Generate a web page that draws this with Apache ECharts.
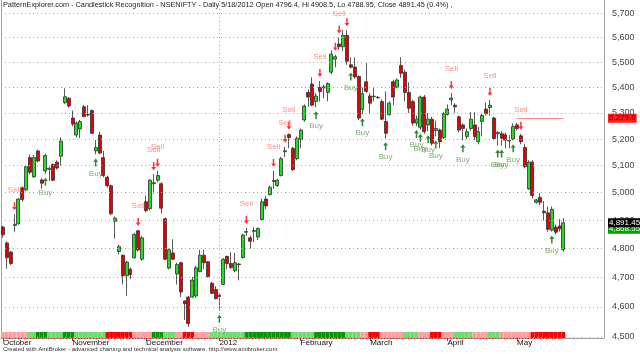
<!DOCTYPE html>
<html>
<head>
<meta charset="utf-8">
<script src="https://cdn.jsdelivr.net/npm/echarts@6/dist/echarts.min.js"></script>
<style>
  html, body { margin: 0; padding: 0; background: #fff; }
  #main { width: 640px; height: 354px; }
</style>
</head>
<body>
<div id="main"></div>
<script>
// daily bars, Oct 3 2011 .. May 18 2012
const opens = [4876,4820,4788,4882,4888,5018,5010,5130,5058,5155,
  5047,5080,5086,5104,5113,5135,5340,5357,5280,5215,
  5238,5324,5292,5309,5155,5215,5130,5057,5026,4897,
  4790,4777,4706,4728,4768,4863,4763,4967,4942,5033,
  5046,5033,4906,4732,4785,4712,4751,4620,4633,4633,
  4637,4720,4777,4754,4680,4659,4635,4676,4773,4748,
  4723,4746,4769,4858,4838,4861,4841,4903,4977,4993,
  5041,5026,5063,5152,5217,5165,5126,5198,5273,5380,
  5413,5344,5400,5398,5380,5460,5512,5574,5563,5609,
  5490,5481,5443,5314,5422,5366,5363,5359,5344,5267,
  5293,5422,5400,5487,5460,5380,5344,5261,5245,5362,
  5254,5276,5232,5234,5206,5294,5351,5330,5285,5254,
  5209,5240,5254,5190,5267,5315,5321,5280,5220,5220,
  5216,5195,5200,5254,5212,5168,5014,5113,4965,4983,
  4933,4927,4865,4876,4880,4796.4]
const closes = [4849,4768,4748,4886,4977,4975,5096,5075,5130,5117,
  5035,5138,5090,5046,5091,5192,5363,5327,5257,5261,
  5267,5286,5294,5222,5168,5147,5063,5026,4924,4908,
  4807,4706,4753,4710,4850,4795,4838,4935,5046,5037,
  5063,4944,4763,4796,4763,4745,4650,4611,4544,4691,
  4733,4777,4751,4703,4646,4628,4639,4763,4748,4734,
  4751,4744,4848,4860,4826,4864,4871,4967,4952,5020,
  5045,5046,5126,5156,5206,5085,5203,5234,5327,5362,
  5330,5366,5384,5402,5415,5533,5522,5563,5609,5504,
  5480,5441,5280,5375,5384,5338,5365,5361,5276,5222,
  5338,5362,5429,5456,5380,5318,5261,5276,5362,5228,
  5276,5184,5240,5190,5297,5315,5358,5324,5234,5240,
  5228,5276,5209,5228,5290,5297,5330,5202,5225,5203,
  5196,5193,5248,5240,5190,5096,5113,4990,4974,4965,
  4927,4868,4940,4858,4870,4891.45]
const highs = [4881,4826,4792,4922,4980,5023,5100,5142,5140,5160,
  5053,5145,5096,5108,5120,5206,5396,5362,5309,5267,
  5273,5331,5330,5314,5196,5228,5155,5063,5030,4914,
  4814,4779,4757,4735,4855,4866,4845,4990,5050,5068,
  5081,5038,4910,4800,4833,4751,4754,4622,4637,4702,
  4740,4796,4796,4757,4685,4670,4645,4767,4775,4788,
  4785,4750,4852,4873,4845,4876,4875,4978,4988,5026,
  5081,5050,5133,5171,5221,5170,5210,5240,5333,5391,
  5440,5377,5425,5410,5420,5548,5530,5600,5630,5630,
  5520,5520,5447,5400,5497,5377,5400,5366,5352,5384,
  5345,5430,5435,5520,5470,5420,5352,5290,5368,5370,
  5300,5285,5270,5240,5303,5333,5378,5338,5290,5260,
  5240,5303,5303,5245,5300,5340,5350,5285,5230,5230,
  5225,5215,5260,5262,5220,5180,5120,5120,4978,5000,
  4970,4950,4950,4885,4905,4908.5]
const lows = [4838,4730,4743,4860,4885,4968,5005,5068,5055,5112,
  5014,5070,5043,5042,5085,5100,5335,5320,5248,5206,
  5203,5283,5286,5218,5142,5142,5057,5019,4918,4835,
  4780,4676,4637,4695,4765,4790,4757,4930,4935,4996,
  5038,4925,4760,4728,4760,4676,4633,4556,4533,4630,
  4630,4718,4729,4700,4643,4625,4587,4673,4728,4729,
  4718,4690,4765,4845,4800,4823,4830,4900,4940,4990,
  5014,5022,5060,5132,5165,5080,5120,5165,5266,5324,
  5326,5322,5344,5357,5345,5452,5480,5550,5545,5490,
  5475,5435,5272,5295,5378,5300,5345,5355,5272,5203,
  5290,5330,5395,5437,5345,5300,5250,5250,5235,5220,
  5230,5175,5210,5165,5200,5290,5330,5300,5225,5195,
  5200,5232,5197,5180,5210,5290,5290,5195,5175,5175,
  5165,5165,5195,5232,5180,5090,5010,4980,4960,4955,
  4900,4860,4860,4850,4860,4788.95]

const slots = 156 // bars plus blank space on the right
const monthStarts = [0, 18, 37, 56, 77, 95, 115, 133]
const monthNames = ['October', 'November', 'December', '2012', 'February', 'March', 'April', 'May']
const yearStart = 56
const yTicks = [4500, 4600, 4700, 4800, 4900, 5000, 5100, 5200, 5300, 5400, 5500, 5600, 5700]

const buyIdx = [11, 24, 56, 81, 90, 93, 99, 107, 108, 110, 112, 119, 128, 129, 132, 142]
const sellIdx = [3, 35, 39, 40, 63, 70, 73, 74, 82, 86, 87, 89, 116, 126, 134]
const sellTextIdx = [3, 35, 39, 40, 63, 70, 73, 74, 82, 87, 116, 126, 134]

// trend ribbon, one letter per bar: P pink, R red, L light green, D dark green
const ribbon = 'PPPPPPPLLDDDLLLLDDDLLLLLLLLRRRRRRRPPPPPDDDLLLPPRRRPPPP' +
  'LLLLLLLLLDDDDDDDDDDDDLLLLLLDDDDDDDDLLLLPPRRRPPPPPPLLLLPPPRRRPPP' +
  'LLLLLPPPPLLLPPPPPPPPRRRRRRRRR'
const ribbonColors = { P: '#ff9f9f', R: '#ff0000', L: '#6fdc6f', D: '#009900' }

const resistance = 5279.6
const resistanceFrom = 133
const lastClose = 4891.45
const avgValue = 4868.55

const FONT = 'Liberation Sans'
const lg = v => Math.log10(v)
const fmt = v => v.toLocaleString('en-US')

const cats = []
for (let i = 0; i < slots; i++) cats.push(String(i))

const candles = opens.map((o, i) => [lg(o), lg(closes[i]), lg(lows[i]), lg(highs[i])])

// log price scale: pixel row 338 = 4496.7, row 0 = 5755.7
const yMin = lg(4496.7)
const yMax = lg(5755.7)

const upArrow = 'path://M5,0 L10,5 L6.5,5 L6.5,12 L3.5,12 L3.5,5 L0,5 Z'
const downArrow = 'path://M5,12 L10,7 L6.5,7 L6.5,0 L3.5,0 L3.5,7 L0,7 Z'

const gridLines = yTicks.map(v => ({
  yAxis: lg(v),
  name: fmt(v),
  lineStyle: { color: '#a8a8a8', type: [1, 3], width: 1 },
  label: { show: true, position: 'end', distance: 8, formatter: '{b}', color: '#444', fontSize: 9, fontFamily: FONT }
}))

function priceBox(v, text, bg, fg) {
  return {
    yAxis: lg(v),
    lineStyle: { color: 'rgba(0,0,0,0)' },
    label: {
      show: true, position: 'end', distance: 4, formatter: text,
      backgroundColor: bg, color: fg, padding: [1, 1, 0, 1], fontSize: 8, fontFamily: FONT
    }
  }
}

var myChart = echarts.init(document.getElementById('main'))

var option = {
  animation: false,
  title: [
    {
      text: 'PatternExplorer.com - Candlestick Recognition - NSENIFTY - Daily 5/18/2012 Open 4796.4, Hi 4908.5, Lo 4788.95, Close 4891.45 (0.4%) ,',
      left: 3, top: 1, padding: 0,
      textStyle: { fontSize: 7.3, fontWeight: 'normal', color: '#222', fontFamily: FONT }
    },
    {
      text: 'Created with AmiBroker - advanced charting and technical analysis software. http://www.amibroker.com',
      left: 3, top: 346, padding: 0,
      textStyle: { fontSize: 6, fontWeight: 'normal', color: '#333', fontFamily: FONT }
    }
  ],
  grid: [
    { left: 1, right: 36, top: 0, bottom: 16, outerBoundsMode: 'none', containLabel: false },
    { left: 1, right: 36, top: 332, height: 6, outerBoundsMode: 'none', containLabel: false }
  ],
  xAxis: [
    {
      type: 'category', data: cats, gridIndex: 0,
      axisLine: { lineStyle: { color: '#a0a0a0' } },
      axisTick: {
        show: true, length: 3, alignWithLabel: true,
        interval: idx => monthStarts.includes(idx),
        lineStyle: { color: '#555' }
      },
      axisLabel: {
        interval: idx => monthStarts.includes(idx),
        formatter: (val, idx) => monthNames[monthStarts.indexOf(idx)] || '',
        align: 'left', margin: 1, color: '#111', fontSize: 8, fontFamily: FONT
      },
      splitLine: { show: false }
    },
    {
      type: 'category', data: cats, gridIndex: 1, show: false
    }
  ],
  yAxis: [
    {
      type: 'value', gridIndex: 0, position: 'right', min: yMin, max: yMax, scale: true,
      axisLine: { show: true, lineStyle: { color: '#a0a0a0' } },
      axisTick: { show: false }, axisLabel: { show: false }, splitLine: { show: false }
    },
    {
      type: 'value', gridIndex: 0, position: 'left', min: yMin, max: yMax, scale: true,
      axisLine: { show: true, lineStyle: { color: '#a0a0a0' } },
      axisTick: { show: false }, axisLabel: { show: false }, splitLine: { show: false }
    },
    {
      type: 'value', gridIndex: 1, min: 0, max: 1, show: false
    }
  ],
  series: [
    {
      type: 'candlestick',
      data: candles,
      barWidth: 3.5,
      itemStyle: {
        color: '#1fe01f', color0: '#e60000',
        borderColor: '#303030', borderColor0: '#303030', borderWidth: 0.8
      },
      markLine: {
        symbol: 'none', silent: true, animation: false, precision: 10,
        data: [
          ...gridLines,
          {
            xAxis: String(yearStart),
            lineStyle: { color: '#a8a8a8', type: [1, 3], width: 1 },
            label: { show: false }
          },
          [
            { coord: [String(resistanceFrom), lg(resistance)], lineStyle: { color: '#ff8c8c', type: 'solid', width: 1 }, label: { show: false } },
            { coord: [String(opens.length - 1), lg(resistance)] }
          ],
          priceBox(resistance, fmt(resistance), '#ff1a1a', '#6a0000'),
          priceBox(avgValue, fmt(avgValue), '#00a000', '#fff'),
          priceBox(lastClose, fmt(lastClose), '#000', '#fff')
        ]
      }
    },
    {
      type: 'scatter', clip: false,
      data: buyIdx.map(i => [String(i), lg(lows[i])]),
      symbol: upArrow, symbolSize: [5, 8], symbolOffset: [0, 8],
      itemStyle: { color: '#006a00' }, z: 5
    },
    {
      type: 'scatter', clip: false,
      data: buyIdx.map(i => [String(i), lg(lows[i])]),
      symbolSize: 0,
      label: { show: true, position: 'bottom', distance: 15, formatter: 'Buy', color: '#5c9a48', fontSize: 8, fontFamily: FONT },
      z: 5
    },
    {
      type: 'scatter', clip: false,
      data: sellIdx.map(i => [String(i), lg(highs[i])]),
      symbol: downArrow, symbolSize: [5, 8], symbolOffset: [0, -8],
      itemStyle: { color: '#ff0000' }, z: 5
    },
    {
      type: 'scatter', clip: false,
      data: sellTextIdx.map(i => [String(i), lg(highs[i])]),
      symbolSize: 0,
      label: { show: true, position: 'top', distance: 20, formatter: 'Sell', color: '#ff7464', fontSize: 8, fontFamily: FONT },
      z: 5
    },
    {
      type: 'bar', xAxisIndex: 1, yAxisIndex: 2,
      barCategoryGap: '0%', barWidth: '100%',
      data: ribbon.split('').map(c => ({ value: 1, itemStyle: { color: ribbonColors[c] } })),
      markLine: {
        symbol: 'none', silent: true,
        data: [[
          { coord: ['0', 0], lineStyle: { color: '#ff0000', type: [1, 2], width: 1 }, label: { show: false } },
          { coord: [String(opens.length - 1), 0] }
        ]]
      }
    }
  ]
}

option && myChart.setOption(option)
</script>
</body>
</html>
